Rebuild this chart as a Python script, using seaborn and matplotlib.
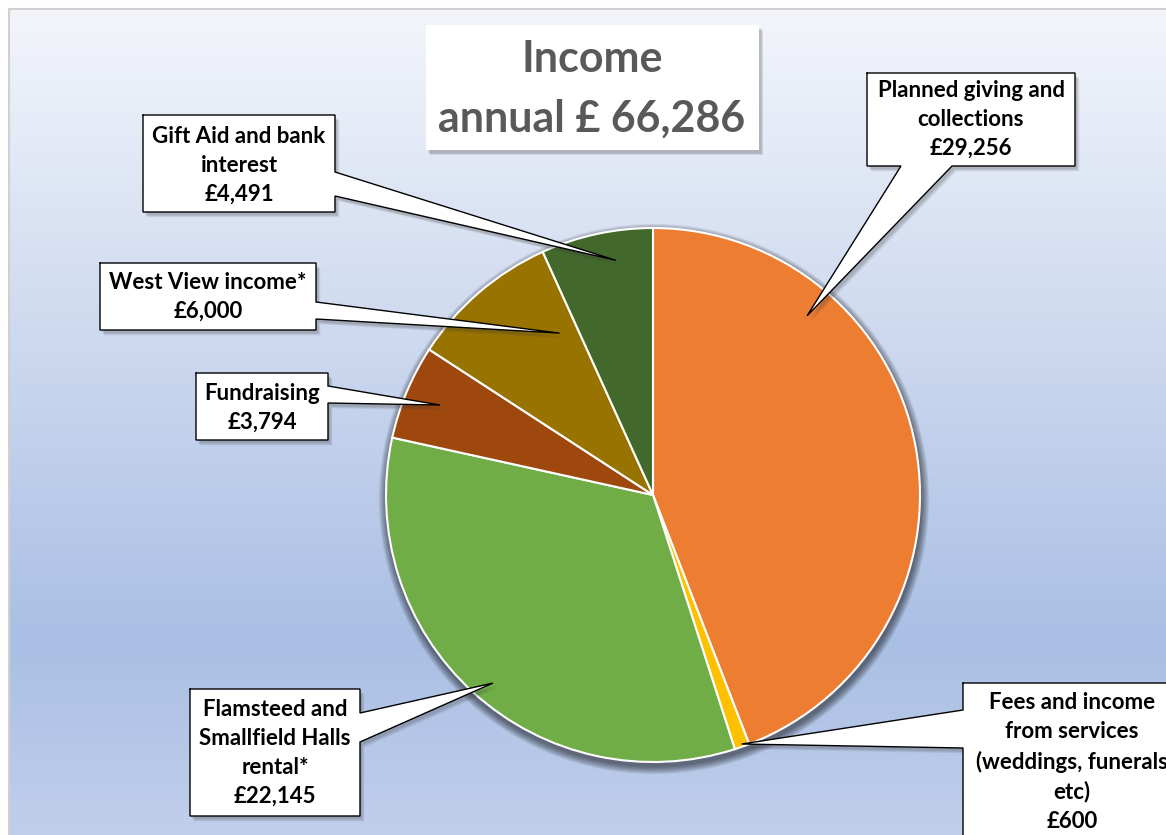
import numpy as np
import matplotlib.pyplot as plt
import matplotlib.patches as mpatches
import seaborn as sns

# data
categories = [
    "Planned giving and\ncollections",
    "Fees and income\nfrom services\n(weddings, funerals\netc)",
    "Flamsteed and\nSmallfield Halls\nrental*",
    "Fundraising",
    "West View income*",
    "Gift Aid and bank\ninterest",
]
values = [29256, 600, 22145, 3794, 6000, 4491]
colors = ["#ED7D31", "#FFC000", "#70AD47", "#9E480E", "#997300", "#43682B"]
title_word = "Income"

W, H = 1166, 835
sns.set_theme(style="white")
plt.rcParams['font.family'] = ['Lato', 'DejaVu Sans']

fig = plt.figure(figsize=(W / 100, H / 100), dpi=100)
ax = fig.add_axes([0, 0, 1, 1])


def Y(y):
    # image (y down) -> axes (y up)
    return H - y


# gradient background of the chart area
ys = np.arange(10, H)
stops_y = [10, 640, 835]
stops_c = np.array([[243, 245, 251], [170, 191, 228], [192, 207, 235]]) / 255
grad = np.stack([np.interp(ys, stops_y, stops_c[:, k]) for k in range(3)], axis=-1)
grad = np.repeat(grad[:, None, :], 2, axis=1)
ax.imshow(grad, extent=[10, W, 0, H - 10], aspect='auto', zorder=0)
ax.plot([9, 9, W], [0, H - 9, H - 9], color='#d0d0d0', lw=1.5, zorder=0.5)

# pie
cx, cy, R = 653, Y(495), 267
for k in range(10):
    ax.add_patch(mpatches.Circle((cx + 1, cy - 4), R + 1 + k * 0.8, color='black',
                                 alpha=0.06, lw=0, zorder=1))
wedges, _ = ax.pie(values, colors=colors, startangle=90, counterclock=False,
                   radius=R, center=(cx, cy),
                   wedgeprops=dict(edgecolor='white', linewidth=1.5))
for w in wedges:
    w.set_zorder(2)


def callout_poly(box, side, a, b, tip):
    x0, y0, x1, y1 = box
    tl, tr, br, bl = (x0, y0), (x1, y0), (x1, y1), (x0, y1)
    if side == 'right':
        pts = [tl, tr, (x1, a), tip, (x1, b), br, bl]
    elif side == 'bottom':
        pts = [tl, tr, br, (b, y1), tip, (a, y1), bl]
    elif side == 'left':
        pts = [tl, tr, br, bl, (x0, b), tip, (x0, a)]
    else:
        pts = [tl, tr, br, bl]
    return np.array([(x, Y(y)) for x, y in pts])


def draw_shape(verts, lw=1.0):
    for k in range(5):
        ax.add_patch(mpatches.Polygon(verts + [2 + k * 0.6, -3 - k * 0.6], closed=True,
                                      facecolor='#404040', alpha=0.07, lw=0, zorder=3))
    ax.add_patch(mpatches.Polygon(verts, closed=True, facecolor='white',
                                  edgecolor='none', zorder=4))
    if lw:
        closed = np.vstack([verts, verts[:1]])
        ax.plot(closed[:, 0], closed[:, 1], color='black', lw=lw, zorder=4.5,
                solid_joinstyle='miter')


# callout layout: box (x0, y0, x1, y1), side, pointer base, tip (angle, radius fraction), text centre
layout = [
    ((867, 73, 1075, 166), 'bottom', 901, 952, (49.3, 0.885), (971, 119)),
    ((963, 683, 1185, 860), 'left', 710, 748, (-70.4, 0.99), (1072, 762)),
    ((190, 689, 360, 816), 'right', 713, 742, (-130.4, 0.925), (275, 753)),
    ((196, 373, 328, 440), 'right', 386, 403, (157.1, 0.866), (262, 408)),
    ((100, 263, 316, 330), 'right', 302, 319, (120.0, 0.70), (208, 297)),
    ((143, 115, 335, 212), 'right', 172, 196, (99.0, 0.89), (239, 165)),
]

for cat, val, (box, side, a, b, (ang, rf), (tx, ty)) in zip(categories, values, layout):
    t = np.deg2rad(ang)
    tip = (cx + R * rf * np.cos(t), H - (cy + R * rf * np.sin(t)))
    draw_shape(callout_poly(box, side, a, b, tip))
    ax.text(tx, Y(ty), f"{cat}\n£{val:,}", ha='center', va='center', fontsize=16,
            fontweight='bold', color='black', linespacing=1.47, zorder=5)

# title box
draw_shape(callout_poly((426, 25, 759, 150), None, 0, 0, None), lw=0)
ax.text(592, Y(89), f"{title_word}\nannual £ {sum(values):,}", ha='center', va='center',
        fontsize=31, fontweight='bold', color='#595959', linespacing=1.6, zorder=5)

ax.set_xlim(0, W)
ax.set_ylim(0, H)
ax.set_aspect('auto')
ax.axis('off')
fig.savefig("out.png", dpi=100, facecolor='white')
